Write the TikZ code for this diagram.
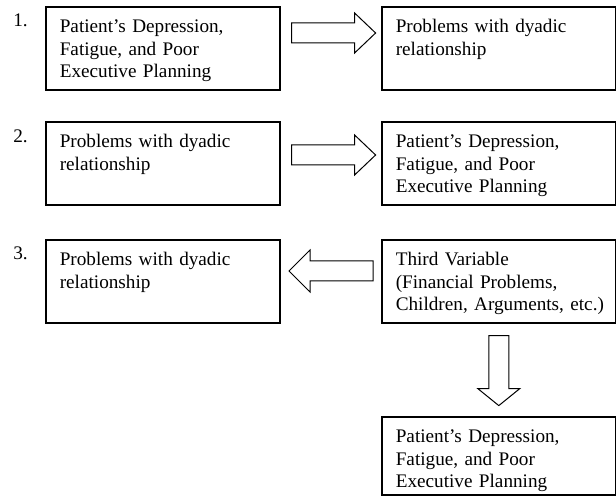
\documentclass[tikz,border=0pt]{standalone}
\usepackage{fontspec}
\setmainfont{Liberation Serif}
\usepackage{tikz}
\usetikzlibrary{calc}
\definecolor{ink}{HTML}{000000}
\tikzset{
  cell/.style={draw=ink, line width=0.8pt, anchor=north west, align=left,
    font=\fontsize{9.6}{11.2}\selectfont, text width=103pt,
    inner xsep=7pt, inner ysep=0pt, text height=13pt, text depth=28.5pt},
  num/.style={anchor=base west, inner sep=0pt, font=\fontsize{9.6}{11.2}\selectfont},
  blk/.style={draw=ink, line width=0.5pt, line join=miter},
}

\begin{document}
\begin{tikzpicture}[x=0.5pt,y=-0.5pt]
  \useasboundingbox (0,0) rectangle (616,496);

  % row 1
  \node[num] (n1) at (13,27) {1.};
  \node[cell] (dep1) at (45,6) {Patient's Depression,\\Fatigue, and Poor\\Executive Planning};
  \node[cell] (dyad1) at (381,6) {Problems with dyadic\\relationship};
  \draw[blk] ($(dep1.north east)+(11,17)$) -- ++(63,0) -- ++(0,-10) -- ++(21,20)
    -- ++(-21,20) -- ++(0,-10) -- ++(-63,0) -- cycle;

  % row 2
  \node[num] (n2) at (13,143) {2.};
  \node[cell] (dyad2) at (45,121) {Problems with dyadic\\relationship};
  \node[cell] (dep2) at (381,121) {Patient's Depression,\\Fatigue, and Poor\\Executive Planning};
  \draw[blk] ($(dyad2.north east)+(11,24)$) -- ++(63,0) -- ++(0,-10) -- ++(21,20)
    -- ++(-21,20) -- ++(0,-10) -- ++(-63,0) -- cycle;

  % row 3
  \node[num] (n3) at (13,260) {3.};
  \node[cell] (dyad3) at (45,239) {Problems with dyadic\\relationship};
  \node[cell] (third) at (381,239) {Third Variable\\(Financial Problems,\\\mbox{Children, Arguments, etc.)}};
  \draw[blk] ($(third.north west)+(-8,22)$) -- ++(-63,0) -- ++(0,-11) -- ++(-21,21)
    -- ++(21,21) -- ++(0,-11) -- ++(63,0) -- cycle;

  \node[cell, text depth=26pt] (dep3) at (381,416) {Patient's Depression,\\Fatigue, and Poor\\Executive Planning};
  \draw[blk] ($(third.south)+(-10,12)$) -- ++(20,0) -- ++(0,53) -- ++(11,0) -- ++(-21,17)
    -- ++(-21,-17) -- ++(11,0) -- cycle;
\end{tikzpicture}
\end{document}
